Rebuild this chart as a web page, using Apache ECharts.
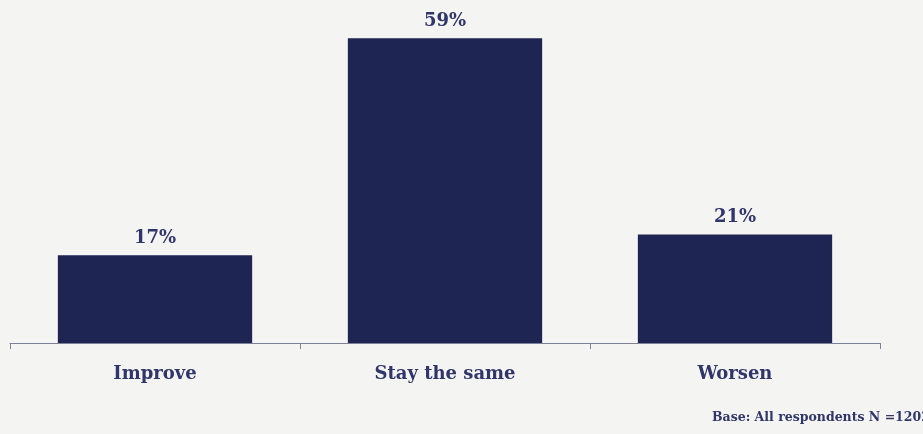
<!DOCTYPE html>
<html>
<head>
<meta charset="utf-8">
<script src="https://cdn.jsdelivr.net/npm/echarts@6/dist/echarts.min.js"></script>
<style>
  html, body { margin: 0; padding: 0; background: #f4f4f2; }
  #chart { width: 923px; height: 434px; }
</style>
</head>
<body>
<div id="chart"></div>
<script>
var categories = ["Improve", "Stay the same", "Worsen"];
var values = [17, 59, 21];
var footnote = "Base: All respondents N =1202";

var textColor = "#30356a";
var serif = "'DejaVu Serif', 'Liberation Serif', serif";

var myChart = echarts.init(document.getElementById("chart"), null, { renderer: "canvas" });

var option = {
  backgroundColor: "#f4f4f2",
  animation: false,
  grid: { left: 10, right: 43, top: 33, bottom: 91 },
  graphic: [
    {
      type: "text",
      left: 712,
      top: 411,
      style: {
        text: footnote,
        font: "bold 12.5px " + serif,
        fill: textColor,
      },
    },
  ],
  xAxis: {
    type: "category",
    data: categories,
    axisLine: { lineStyle: { color: "#7d8199", width: 1 } },
    axisTick: { show: true, length: 6, lineStyle: { color: "#7d8199" } },
    axisLabel: {
      margin: 22,
      color: textColor,
      fontFamily: serif,
      fontWeight: "bold",
      fontSize: 18,
    },
  },
  yAxis: {
    type: "value",
    min: 0,
    max: 60,
    show: false,
    splitLine: { show: false },
  },
  series: [
    {
      type: "bar",
      data: values,
      barWidth: "67%",
      itemStyle: { color: "#1f2553" },
      label: {
        show: true,
        position: "top",
        distance: 8,
        formatter: "{c}%",
        color: textColor,
        fontFamily: serif,
        fontWeight: "bold",
        fontSize: 18,
      },
    },
  ],
};

myChart.setOption(option);
</script>
</body>
</html>
